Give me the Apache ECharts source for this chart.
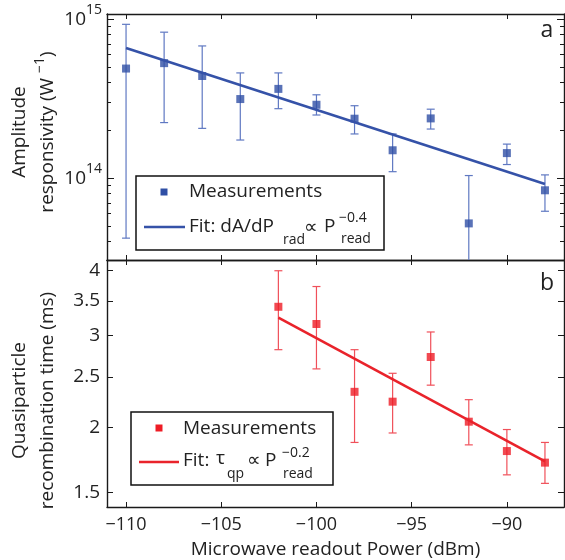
<!DOCTYPE html>
<html>
<head>
<meta charset="utf-8">
<script src="https://cdn.jsdelivr.net/npm/echarts@6/dist/echarts.min.js"></script>
<style>html,body{margin:0;padding:0;background:#fff}#c{width:565px;height:560px}</style>
</head>
<body>
<div id="c"></div>
<script>
// ---- data ----
const powerA = [-110, -108, -106, -104, -102, -100, -98, -96, -94, -92, -90, -88];
const respA = [4.9e14, 5.3e14, 4.4e14, 3.15e14, 3.65e14, 2.9e14, 2.37e14, 1.5e14, 2.38e14, 5.2e13, 1.44e14, 8.4e13];
const respHi = [9.3e14, 8.3e14, 6.8e14, 4.6e14, 4.6e14, 3.35e14, 2.86e14, 1.9e14, 2.72e14, 1.04e14, 1.64e14, 1.05e14];
const respLo = [4.2e13, 2.24e14, 2.06e14, 1.74e14, 2.74e14, 2.5e14, 1.9e14, 1.1e14, 2.04e14, 1.5e13, 1.22e14, 6.2e13];
const fitAX = [-110, -88];
const fitAY = [6.6e14, 9.2e13];

const powerB = [-102, -100, -98, -96, -94, -92, -90, -88];
const tauB = [3.41, 3.16, 2.34, 2.24, 2.73, 2.05, 1.80, 1.71];
const tauHi = [4.0, 3.73, 2.82, 2.54, 3.05, 2.26, 1.98, 1.87];
const tauLo = [2.82, 2.59, 1.87, 1.95, 2.41, 1.85, 1.62, 1.56];
const fitBX = [-102, -88];
const fitBY = [3.25, 1.72];

const xTicks = [-110, -105, -100, -95, -90];
const topMajorTicks = [1e14, 1e15];
const topMinorTicks = [4e13, 5e13, 6e13, 7e13, 8e13, 9e13, 2e14, 3e14, 4e14, 5e14, 6e14, 7e14, 8e14, 9e14];
const bottomTicks = [1.5, 2, 2.5, 3, 3.5, 4];

// ---- styling ----
const FONT = '"Open Sans", "DejaVu Sans", sans-serif';
const BLUE = '#2f4fa5', BLUE_LINE = '#3552a8', BLUE_ERR = '#5f78c2';
const RED = '#ee1c25', RED_LINE = '#e9232b', RED_ERR = '#f0505a';
const AX = '#1a1a1a';

const chart = echarts.init(document.getElementById('c'), null, {renderer: 'canvas'});

function errRender(color) {
  return function (params, api) {
    const x = api.value(0), lo = api.value(1), hi = api.value(2);
    const a = api.coord([x, lo]), b = api.coord([x, hi]);
    const w = 4;
    const st = {stroke: color, lineWidth: 1.2};
    return {type: 'group', children: [
      {type: 'line', shape: {x1: a[0], y1: a[1], x2: b[0], y2: b[1]}, style: st},
      {type: 'line', shape: {x1: a[0] - w, y1: a[1], x2: a[0] + w, y2: a[1]}, style: st},
      {type: 'line', shape: {x1: b[0] - w, y1: b[1], x2: b[0] + w, y2: b[1]}, style: st}
    ]};
  };
}

const xBase = (grid, pos, showLabel) => ({
  type: 'value', gridIndex: grid, position: pos, min: -111, max: -87,
  axisLine: {show: true, onZero: false, lineStyle: {color: AX, width: 1.4}},
  axisTick: {show: true, inside: true, length: 5, customValues: xTicks, lineStyle: {color: AX, width: 1}},
  axisLabel: {show: showLabel, customValues: xTicks, fontFamily: FONT, fontSize: 18, color: '#222', margin: 9,
    formatter: v => (v < 0 ? '\u2212' + Math.abs(v) : String(v))},
  splitLine: {show: false}
});

const txt = {fontFamily: FONT, fontSize: 19, color: '#222', lineHeight: 28};
const nameRichA = {
  u: Object.assign({}, txt, {padding: [0, 0, 0, 10]}),
  t: Object.assign({}, txt),
  sp: {fontFamily: FONT, fontSize: 14, color: '#222', padding: [0, 0, 16, 0]}
};
const nameRichB = {
  c: Object.assign({}, txt, {padding: [0, 34, 0, 0]})
};

const option = {
  animation: false,
  backgroundColor: '#fff',
  grid: [
    {left: 107, right: 1, top: 14, height: 246, outerBoundsMode: 'none'},
    {left: 107, right: 1, top: 260, height: 247, outerBoundsMode: 'none'}
  ],
  xAxis: [
    xBase(0, 'bottom', false),
    xBase(0, 'top', false),
    Object.assign(xBase(1, 'bottom', true), {
      name: 'Microwave readout Power (dBm)', nameLocation: 'middle', nameGap: 33, nameMoveOverlap: false,
      nameTextStyle: {fontFamily: FONT, fontSize: 19, color: '#222'}
    }),
    xBase(1, 'top', false)
  ],
  yAxis: [
    {
      type: 'log', gridIndex: 0, position: 'left', min: 3.06e13, max: 1.08e15,
      axisLine: {show: true, lineStyle: {color: AX, width: 1.4}},
      axisTick: {show: true, inside: true, length: 7, customValues: topMajorTicks, lineStyle: {color: AX}},
      axisLabel: {show: true, customValues: topMajorTicks, margin: 5,
        formatter: v => '{b|10}{s|' + Math.round(Math.log10(v)) + '}',
        rich: {b: {fontFamily: FONT, fontSize: 19, color: '#222'},
               s: {fontFamily: FONT, fontSize: 14, color: '#222', padding: [0, 0, 18, 0]}}},
      splitLine: {show: false},
      name: '{u|Amplitude}\n{u|responsivity (W }{sp|\u22121}{t|)}', nameLocation: 'middle', nameGap: 45,
      nameMoveOverlap: false,
      nameTextStyle: {fontFamily: FONT, fontSize: 19, color: '#222', lineHeight: 28, rich: nameRichA}
    },
    {
      type: 'log', gridIndex: 0, position: 'right', min: 3.06e13, max: 1.08e15,
      axisLine: {show: true, lineStyle: {color: AX, width: 1.4}},
      axisTick: {show: true, inside: true, length: 7, customValues: topMajorTicks, lineStyle: {color: AX}},
      axisLabel: {show: false}, splitLine: {show: false}
    },
    {
      type: 'log', gridIndex: 0, position: 'left', min: 3.06e13, max: 1.08e15,
      axisLine: {show: false},
      axisTick: {show: true, inside: true, length: 4, customValues: topMinorTicks, lineStyle: {color: AX}},
      axisLabel: {show: false}, splitLine: {show: false}
    },
    {
      type: 'log', gridIndex: 0, position: 'right', min: 3.06e13, max: 1.08e15,
      axisLine: {show: false},
      axisTick: {show: true, inside: true, length: 4, customValues: topMinorTicks, lineStyle: {color: AX}},
      axisLabel: {show: false}, splitLine: {show: false}
    },
    {
      type: 'log', gridIndex: 1, position: 'left', min: 1.405, max: 4.195,
      axisLine: {show: true, lineStyle: {color: AX, width: 1.4}},
      axisTick: {show: true, inside: true, length: 6, customValues: bottomTicks, lineStyle: {color: AX}},
      axisLabel: {show: true, customValues: bottomTicks, margin: 7, fontFamily: FONT, fontSize: 19, color: '#222',
        formatter: v => String(v)},
      splitLine: {show: false},
      name: '{c|Quasiparticle}\n{c|recombination time (ms)}', nameLocation: 'middle', nameGap: 45,
      nameMoveOverlap: false,
      nameTextStyle: {fontFamily: FONT, fontSize: 19, color: '#222', lineHeight: 28, rich: nameRichB}
    },
    {
      type: 'log', gridIndex: 1, position: 'right', min: 1.405, max: 4.195,
      axisLine: {show: true, lineStyle: {color: AX, width: 1.4}},
      axisTick: {show: true, inside: true, length: 6, customValues: bottomTicks, lineStyle: {color: AX}},
      axisLabel: {show: false}, splitLine: {show: false}
    }
  ],
  series: [
    {type: 'custom', xAxisIndex: 0, yAxisIndex: 0, clip: true, z: 2,
     renderItem: errRender(BLUE_ERR),
     data: powerA.map((x, i) => [x, respLo[i], respHi[i]])},
    {type: 'scatter', xAxisIndex: 0, yAxisIndex: 0, symbol: 'rect', symbolSize: 8, z: 3,
     itemStyle: {color: BLUE}, data: powerA.map((x, i) => [x, respA[i]])},
    {type: 'line', xAxisIndex: 0, yAxisIndex: 0, symbol: 'none', z: 4,
     lineStyle: {color: BLUE_LINE, width: 2.6}, data: fitAX.map((x, i) => [x, fitAY[i]])},
    {type: 'custom', xAxisIndex: 2, yAxisIndex: 4, clip: true, z: 2,
     renderItem: errRender(RED_ERR),
     data: powerB.map((x, i) => [x, tauLo[i], tauHi[i]])},
    {type: 'scatter', xAxisIndex: 2, yAxisIndex: 4, symbol: 'rect', symbolSize: 8, z: 3,
     itemStyle: {color: RED}, data: powerB.map((x, i) => [x, tauB[i]])},
    {type: 'line', xAxisIndex: 2, yAxisIndex: 4, symbol: 'none', z: 4,
     lineStyle: {color: RED_LINE, width: 2.6}, data: fitBX.map((x, i) => [x, fitBY[i]])}
  ],
  graphic: [
    // panel letters
    {type: 'text', x: 547, y: 30, z: 20, style: {text: 'a', font: '23px ' + FONT, fill: '#222', align: 'center', verticalAlign: 'middle'}},
    {type: 'text', x: 547, y: 283, z: 20, style: {text: 'b', font: '23px ' + FONT, fill: '#222', align: 'center', verticalAlign: 'middle'}},
    // legend a
    {type: 'group', z: 20, children: [
      {type: 'rect', shape: {x: 136, y: 176, width: 248, height: 74}, style: {fill: '#fff', stroke: '#111', lineWidth: 1.5}},
      {type: 'rect', shape: {x: 160.5, y: 188.5, width: 7, height: 7}, style: {fill: BLUE}},
      {type: 'line', shape: {x1: 144, y1: 227, x2: 185, y2: 227}, style: {stroke: BLUE_LINE, lineWidth: 2.6}},
      {type: 'text', x: 189, y: 192, style: {text: 'Measurements', font: '19px ' + FONT, fill: '#222', verticalAlign: 'middle'}},
      {type: 'text', x: 189, y: 227, style: {text: 'Fit: dA/dP', font: '19px ' + FONT, fill: '#222', verticalAlign: 'middle'}},
      {type: 'text', x: 283, y: 240, style: {text: 'rad', font: '14px ' + FONT, fill: '#222', verticalAlign: 'middle'}},
      {type: 'text', x: 304, y: 228, style: {text: '\u221d', font: '19px "DejaVu Sans", sans-serif', fill: '#222', verticalAlign: 'middle'}},
      {type: 'text', x: 324, y: 227, style: {text: 'P', font: '19px ' + FONT, fill: '#222', verticalAlign: 'middle'}},
      {type: 'text', x: 339, y: 218, style: {text: '\u22120.4', font: '14px ' + FONT, fill: '#222', verticalAlign: 'middle'}},
      {type: 'text', x: 341, y: 239, style: {text: 'read', font: '14px ' + FONT, fill: '#222', verticalAlign: 'middle'}}
    ]},
    // legend b
    {type: 'group', z: 20, children: [
      {type: 'rect', shape: {x: 131, y: 412, width: 202, height: 73}, style: {fill: '#fff', stroke: '#111', lineWidth: 1.5}},
      {type: 'rect', shape: {x: 155.5, y: 424.5, width: 7, height: 7}, style: {fill: RED}},
      {type: 'line', shape: {x1: 139, y1: 462, x2: 179, y2: 462}, style: {stroke: RED_LINE, lineWidth: 2.6}},
      {type: 'text', x: 183, y: 429, style: {text: 'Measurements', font: '19px ' + FONT, fill: '#222', verticalAlign: 'middle'}},
      {type: 'text', x: 183, y: 461, style: {text: 'Fit:', font: '19px ' + FONT, fill: '#222', verticalAlign: 'middle'}},
      {type: 'text', x: 216, y: 459, style: {text: '\u03c4', font: '19px ' + FONT, fill: '#222', verticalAlign: 'middle'}},
      {type: 'text', x: 227, y: 474, style: {text: 'qp', font: '14px ' + FONT, fill: '#222', verticalAlign: 'middle'}},
      {type: 'text', x: 247, y: 461, style: {text: '\u221d', font: '19px "DejaVu Sans", sans-serif', fill: '#222', verticalAlign: 'middle'}},
      {type: 'text', x: 265, y: 461, style: {text: 'P', font: '19px ' + FONT, fill: '#222', verticalAlign: 'middle'}},
      {type: 'text', x: 282, y: 453, style: {text: '\u22120.2', font: '14px ' + FONT, fill: '#222', verticalAlign: 'middle'}},
      {type: 'text', x: 283, y: 474, style: {text: 'read', font: '14px ' + FONT, fill: '#222', verticalAlign: 'middle'}}
    ]}
  ]
};
chart.setOption(option);
</script>
</body>
</html>
